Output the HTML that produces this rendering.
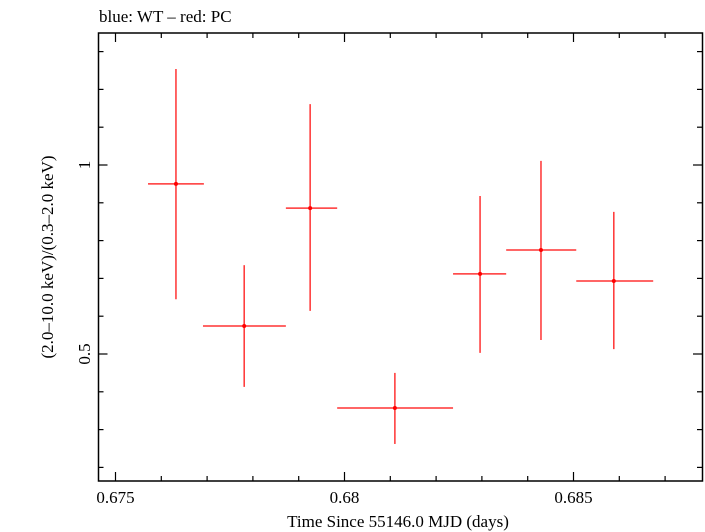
<!DOCTYPE html>
<html><head><meta charset="utf-8"><style>
html,body{margin:0;padding:0;background:#fff;}
svg{display:block;font-family:"Liberation Serif",serif;}
</style></head><body>
<svg id="chart" width="705" height="532" viewBox="0 0 705 532">
<text x="99" y="22" font-size="17">blue: WT – red: PC</text>
<rect x="98.5" y="33" width="604" height="448" fill="none" stroke="#000" stroke-width="1.5"/>
<g id="axes"></g>
<g id="series"></g>
<text x="398" y="527" font-size="17" text-anchor="middle">Time Since 55146.0 MJD (days)</text>
<text transform="translate(53,257) rotate(-90)" font-size="17" text-anchor="middle">(2.0–10.0 keV)/(0.3–2.0 keV)</text>
</svg>
<script>
const xVals=[0.67632,0.67781,0.67925,0.6811,0.68296,0.68429,0.68588];
const xLo=[0.67571,0.67691,0.67872,0.67984,0.68237,0.68353,0.68506];
const xHi=[0.67693,0.67872,0.67984,0.68237,0.68353,0.68506,0.68674];
const yVals=[0.95,0.574,0.886,0.357,0.712,0.775,0.693];
const yLo=[0.645,0.413,0.614,0.262,0.503,0.537,0.513];
const yHi=[1.254,0.735,1.161,0.45,0.918,1.011,0.876];
const xTickLabels=["0.675","0.68","0.685"];
const xTicks=[0.675,0.68,0.685];
const yTickLabels=["0.5","1"];
const yTicks=[0.5,1];
const X=v=>115.5+(v-0.675)*45800;
const Y=v=>354-(v-0.5)*378;
const NS="http://www.w3.org/2000/svg";
function mk(tag,attrs,parent){const e=document.createElementNS(NS,tag);for(const k in attrs)e.setAttribute(k,attrs[k]);parent.appendChild(e);return e;}
const axes=document.getElementById('axes');
const ser=document.getElementById('series');
for(let i=0;i<=13;i++){
  const v=0.675+i*0.001-0.001;
  const x=X(v); if(x<99||x>702)continue;
  const major=Math.abs((v*1000)%5)<1e-6||Math.abs((v*1000)%5-5)<1e-6;
  const L=major?9:5;
  const t1=mk('line',{x1:x,x2:x,y1:481,y2:481-L,stroke:'#000','stroke-width':1.2},axes);
  
  
  const t2=mk('line',{x1:x,x2:x,y1:33,y2:33+L,stroke:'#000','stroke-width':1.2},axes);
  
  
}
xTicks.forEach((v,i)=>{
  const t=mk('text',{x:X(v),y:503,'font-size':17,'text-anchor':'middle'},axes);
  t.textContent=xTickLabels[i];
  
  
});
for(let i=1;i<=13;i++){
  const v=i*0.1;
  const y=Y(v); if(y<34||y>480)continue;
  const major=(i%5===0);
  const L=major?9:5;
  const t1=mk('line',{x1:98.5,x2:98.5+L,y1:y,y2:y,stroke:'#000','stroke-width':1.2},axes);
  
  
  const t2=mk('line',{x1:702,x2:702-L,y1:y,y2:y,stroke:'#000','stroke-width':1.2},axes);
  
  
}
yTicks.forEach((v,i)=>{
  const t=mk('text',{transform:`translate(90,${Y(v)}) rotate(-90)`,'font-size':17,'text-anchor':'middle'},axes);
  t.textContent=yTickLabels[i];
  
  
});
xVals.forEach((xv,i)=>{
  const g=mk('g',{},ser);
  
  
  mk('line',{x1:X(xLo[i]),x2:X(xHi[i]),y1:Y(yVals[i]),y2:Y(yVals[i]),stroke:'#f33','stroke-width':1.5},g);
  mk('line',{x1:X(xv),x2:X(xv),y1:Y(yLo[i]),y2:Y(yHi[i]),stroke:'#f33','stroke-width':1.5},g);
  mk('circle',{cx:X(xv),cy:Y(yVals[i]),r:2,fill:'#f00'},g);
});
</script>
</body></html>
